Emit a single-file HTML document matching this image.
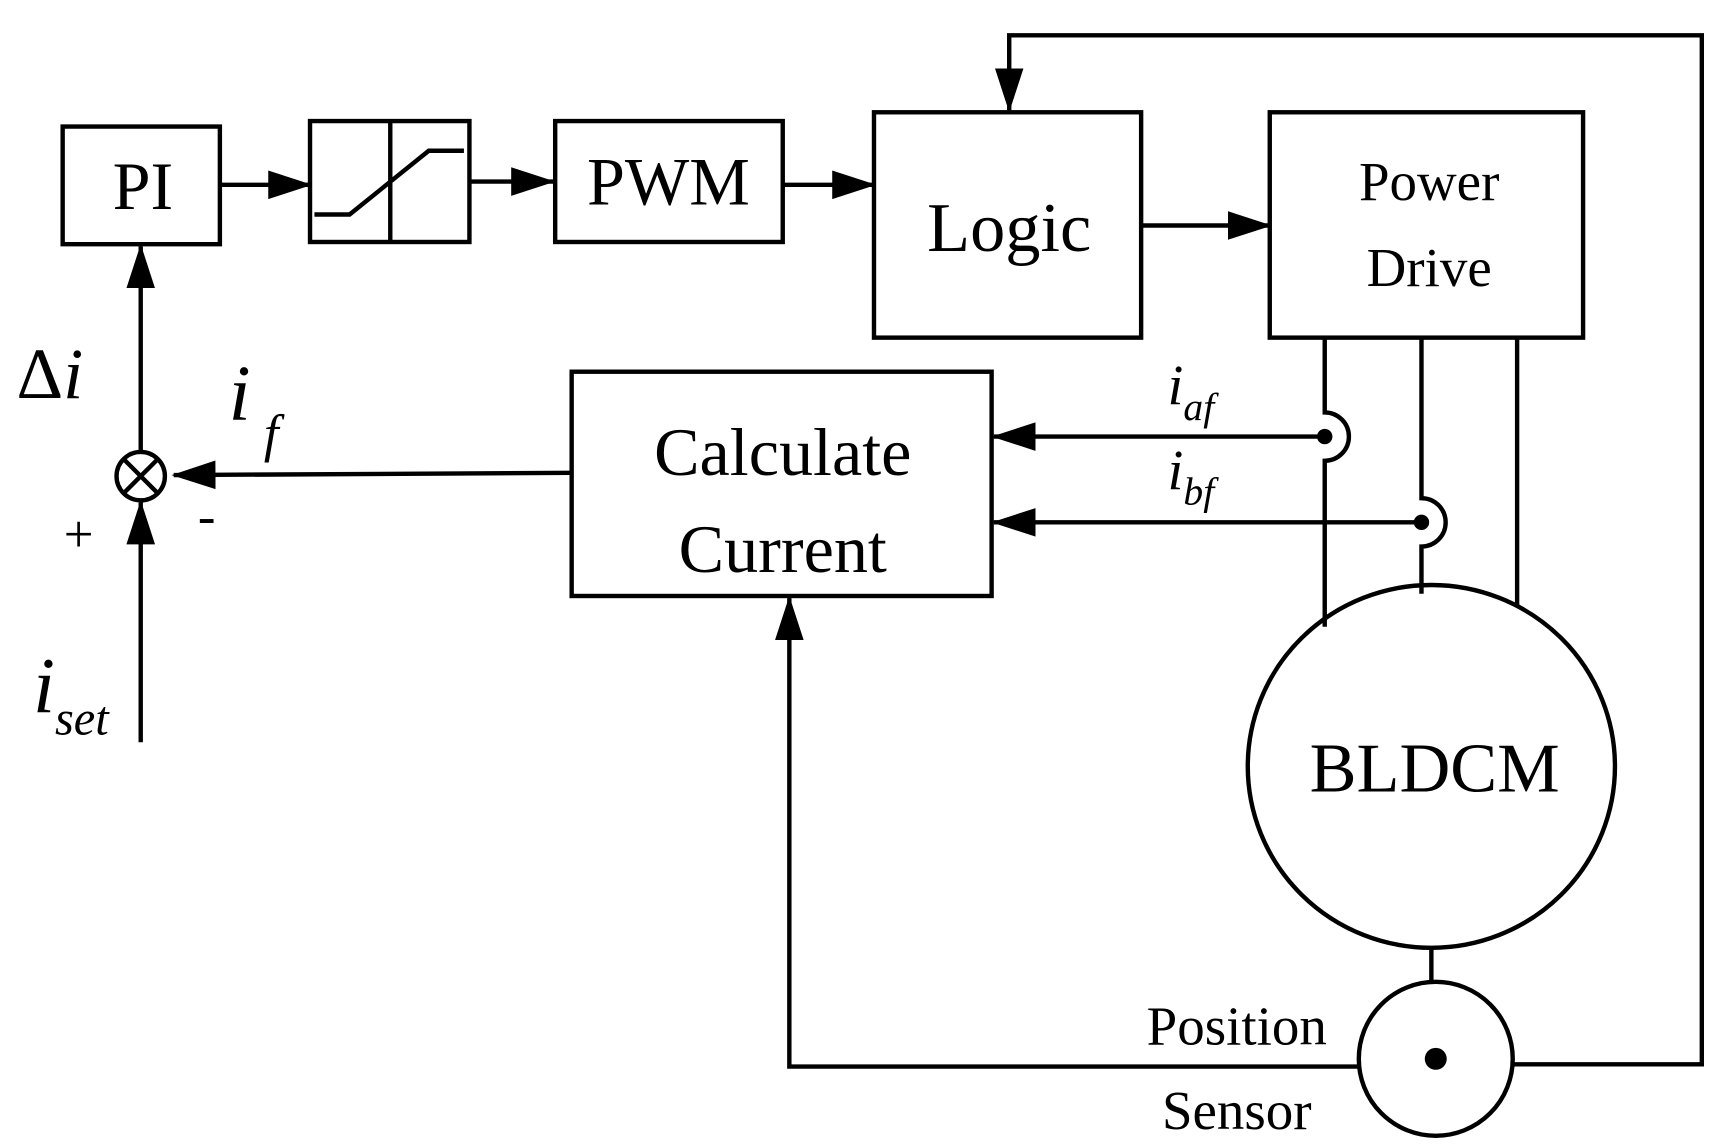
<!DOCTYPE html>
<html><head><style>html,body{margin:0;padding:0;background:#fff}svg{display:block}</style></head>
<body>
<svg width="1715" height="1148" viewBox="0 0 1560 1044" xmlns="http://www.w3.org/2000/svg" font-family="Liberation Serif, serif">
<defs><marker id="a" markerWidth="40" markerHeight="26" refX="38" refY="13" orient="auto" markerUnits="userSpaceOnUse" viewBox="0 0 40 26"><path d="M0,0 L40,13 L0,26z" fill="#000"/></marker></defs>
<g fill="none" stroke="#000" stroke-width="4">
<rect x="57" y="115" width="143" height="107"/>
<rect x="282" y="110" width="145" height="110"/>
<line x1="355" y1="110" x2="355" y2="220"/>
<polyline points="286,195 318,195 390,137 422,137"/>
<rect x="505" y="110" width="207" height="110"/>
<rect x="795" y="102" width="243" height="205"/>
<rect x="1155" y="102" width="285" height="205"/>
<rect x="520" y="338" width="382" height="204"/>
<circle cx="128" cy="433" r="22"/>
<line x1="113" y1="418" x2="143" y2="448"/><line x1="143" y1="418" x2="113" y2="448"/>
<ellipse cx="1302" cy="697" rx="167" ry="165"/>
<circle cx="1306" cy="963" r="70"/>
<line x1="1302" y1="862" x2="1302" y2="893"/>
<path d="M1205,307 V375 A22,22 0 0 1 1205,419 V570"/>
<path d="M1293,307 V453 A22,22 0 0 1 1293,497 V540"/>
<line x1="1380" y1="307" x2="1380" y2="550"/>
</g>
<g stroke="#000" stroke-width="4" fill="none">
<line x1="200" y1="168" x2="282" y2="168" marker-end="url(#a)"/>
<line x1="427" y1="165" x2="503" y2="165" marker-end="url(#a)"/>
<line x1="712" y1="168" x2="795" y2="168" marker-end="url(#a)"/>
<line x1="1038" y1="205" x2="1155" y2="205" marker-end="url(#a)"/>
<polyline points="1377,968 1548,968 1548,32 918,32 918,100" marker-end="url(#a)"/>
<line x1="520" y1="430" x2="158" y2="432" marker-end="url(#a)"/>
<line x1="128" y1="411" x2="128" y2="224" marker-end="url(#a)"/>
<line x1="128" y1="675" x2="128" y2="457" marker-end="url(#a)"/>
<line x1="1205" y1="397" x2="904" y2="397" marker-end="url(#a)"/>
<line x1="1293" y1="475" x2="904" y2="475" marker-end="url(#a)"/>
<polyline points="1236,970 718,970 718,544" marker-end="url(#a)"/>
</g>
<circle cx="1205" cy="397" r="7"/><circle cx="1293" cy="475" r="7"/><circle cx="1306" cy="963" r="10"/>
<g text-anchor="middle" font-size="62">
<text x="130" y="190">PI</text>
<text x="608" y="186">PWM</text>
<text x="918" y="228" font-size="64">Logic</text>
<text x="1300" y="182" font-size="50">Power</text>
<text x="1300" y="260" font-size="50">Drive</text>
<text x="712" y="432">Calculate</text>
<text x="712" y="520">Current</text>
<text x="1305" y="720" font-size="64">BLDCM</text>
<text x="1125" y="950" font-size="50">Position</text>
<text x="1125" y="1027" font-size="50">Sensor</text>
</g>
<text x="15" y="362" font-size="66">Δ<tspan font-style="italic">i</tspan></text>
<text x="208" y="382" font-size="72" font-style="italic">i<tspan font-size="48" dx="12" dy="28">f</tspan></text>
<text x="58" y="502" font-size="48">+</text>
<text x="180" y="485" font-size="48">-</text>
<text x="30" y="648" font-size="72" font-style="italic">i<tspan font-size="44" dy="20">set</tspan></text>
<text x="1062" y="368" font-size="52" font-style="italic">i<tspan font-size="36" dy="14">af</tspan></text>
<text x="1062" y="445" font-size="52" font-style="italic">i<tspan font-size="36" dy="14">bf</tspan></text>
</svg>
</body></html>
